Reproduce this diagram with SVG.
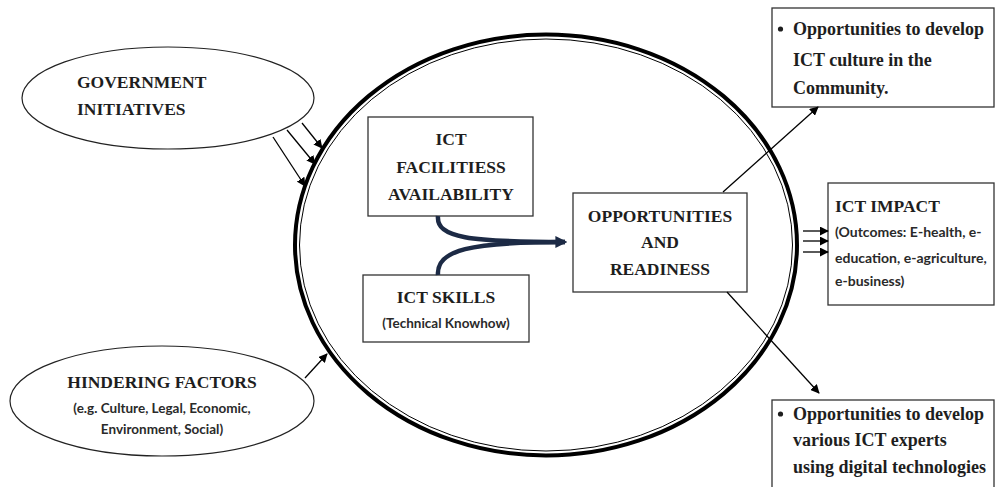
<svg xmlns="http://www.w3.org/2000/svg" width="995" height="487" viewBox="0 0 995 487">
<defs>
<marker id="ah" viewBox="0 0 10 10" refX="9" refY="5" markerWidth="9" markerHeight="9" markerUnits="userSpaceOnUse" orient="auto">
<path d="M0,0 L10,5 L0,10 z" fill="#000"/>
</marker>
<marker id="ahb" viewBox="0 0 10 10" refX="8" refY="5" markerWidth="12" markerHeight="13" markerUnits="userSpaceOnUse" orient="auto">
<path d="M0,0 L10,5 L0,10 z" fill="#1c2a45"/>
</marker>
<style>
.sb{font-family:"Liberation Serif","Times New Roman",serif;font-weight:bold;font-size:17.5px;fill:#1e1e1e}
.bl{font-family:"Liberation Serif","Times New Roman",serif;font-weight:bold;font-size:18px;fill:#1e1e1e}
.cb{font-family:Lato,"Open Sans",sans-serif;font-weight:bold;font-size:13.5px;fill:#2a2a2a}
.cb2{font-family:Lato,"Open Sans",sans-serif;font-weight:bold;font-size:14px;fill:#2a2a2a}
.box{fill:#fff;stroke:#333;stroke-width:1.3}
.ell{fill:#fff;stroke:#222;stroke-width:1.2}
.ln{stroke:#000;stroke-width:1.3;fill:none;marker-end:url(#ah)}
.mid{text-anchor:middle}
</style>
</defs>
<rect width="995" height="487" fill="#fff"/>

<g id="main-circle">
<ellipse cx="546" cy="245" rx="251" ry="210.5" fill="none" stroke="#000" stroke-width="4"/>
<ellipse cx="546" cy="245" rx="246.5" ry="206" fill="none" stroke="#000" stroke-width="1"/>
</g>

<g id="government">
<ellipse class="ell" cx="168" cy="98" rx="146" ry="51"/>
<text class="sb" x="77" y="88">GOVERNMENT</text>
<text class="sb" x="77" y="115">INITIATIVES</text>
</g>

<g id="hindering">
<ellipse class="ell" cx="162" cy="401" rx="152" ry="55"/>
<text class="sb mid" x="162" y="388">HINDERING FACTORS</text>
<text class="cb mid" x="162" y="413">(e.g. Culture, Legal, Economic,</text>
<text class="cb mid" x="162" y="434">Environment, Social)</text>
</g>

<g id="facilities">
<rect class="box" x="368" y="117" width="165" height="99"/>
<text class="sb mid" x="451" y="145">ICT</text>
<text class="sb mid" x="451" y="173">FACILITIESS</text>
<text class="sb mid" x="451" y="200">AVAILABILITY</text>
</g>

<g id="skills">
<rect class="box" x="363" y="275" width="166" height="67"/>
<text class="sb mid" x="446" y="303">ICT SKILLS</text>
<text class="cb mid" x="446" y="328">(Technical Knowhow)</text>
</g>

<g id="opportunities">
<rect class="box" x="573" y="193" width="174" height="99"/>
<text class="sb mid" x="660" y="222">OPPORTUNITIES</text>
<text class="sb mid" x="660" y="248">AND</text>
<text class="sb mid" x="660" y="275">READINESS</text>
</g>

<g id="culture">
<rect class="box" x="772" y="8" width="222" height="99"/>
<circle cx="780.5" cy="29" r="2.6" fill="#1e1e1e"/>
<text class="bl" x="793" y="35">Opportunities to develop</text>
<text class="bl" x="793" y="66">ICT culture in the</text>
<text class="bl" x="793" y="94">Community.</text>
</g>

<g id="impact">
<rect class="box" x="828" y="183" width="166" height="122"/>
<text class="sb" x="835" y="212">ICT IMPACT</text>
<text class="cb2" x="835" y="237">(Outcomes: E-health, e-</text>
<text class="cb2" x="835" y="263">education, e-agriculture,</text>
<text class="cb2" x="835" y="286">e-business)</text>
</g>

<g id="experts">
<rect class="box" x="772" y="400" width="222" height="95"/>
<circle cx="780.5" cy="414" r="2.6" fill="#1e1e1e"/>
<text class="bl" x="793" y="420">Opportunities to develop</text>
<text class="bl" x="793" y="446">various ICT experts</text>
<text class="bl" x="793" y="473">using digital technologies</text>
</g>

<g id="connectors">
<line class="ln" x1="273" y1="137" x2="305" y2="186"/>
<line class="ln" x1="287" y1="130" x2="315" y2="164"/>
<line class="ln" x1="302" y1="123" x2="322" y2="148"/>
<line class="ln" x1="305" y1="378" x2="327" y2="354"/>
<path d="M438,216 C436,238 470,242 565,242" fill="none" stroke="#1c2a45" stroke-width="4.5" marker-end="url(#ahb)"/>
<path d="M438,275 C436,250 470,242 565,242" fill="none" stroke="#1c2a45" stroke-width="4.5"/>
<line class="ln" x1="723" y1="192" x2="818" y2="107"/>
<line class="ln" x1="727" y1="292" x2="819" y2="393"/>
<line class="ln" x1="803" y1="231" x2="828" y2="231"/>
<line class="ln" x1="803" y1="241" x2="828" y2="241"/>
<line class="ln" x1="803" y1="252" x2="828" y2="252"/>
</g>
</svg>
